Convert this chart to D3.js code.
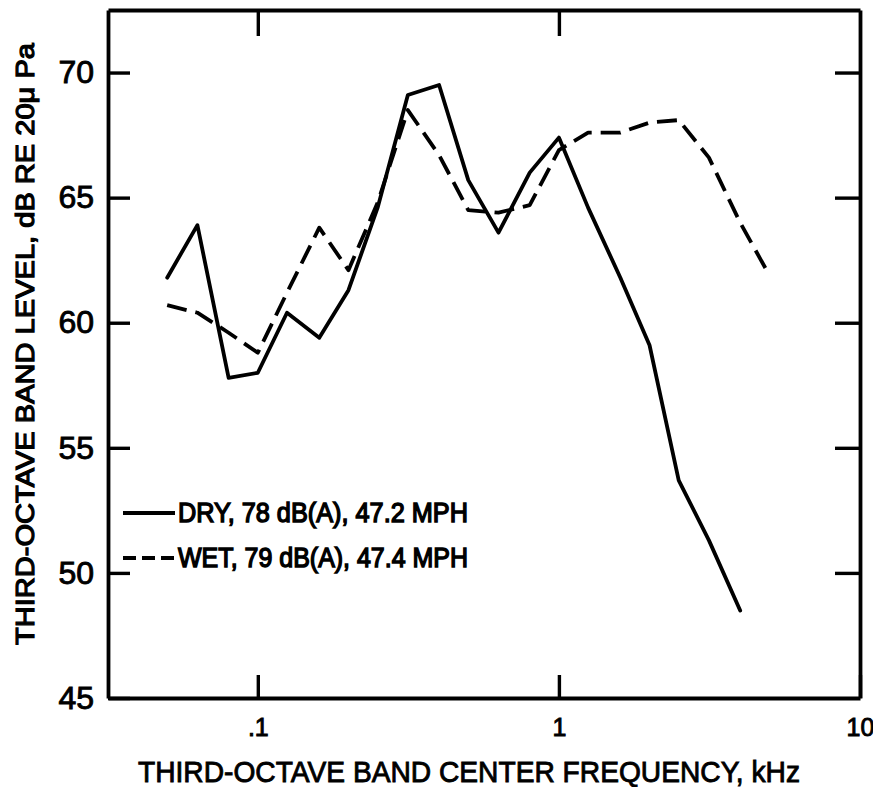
<!DOCTYPE html>
<html>
<head>
<meta charset="utf-8">
<script src="https://cdn.jsdelivr.net/npm/d3@7"></script>
<style>
  body { margin: 0; background: #fff; }
  text { font-family: "Liberation Sans", Arial, sans-serif; fill: #000; stroke: #000; stroke-width: 0.9px; }
</style>
</head>
<body>
<svg id="chart"></svg>
<script>
const WIDTH = 873;
const HEIGHT = 787;

// third-octave band centres, kHz
const freqs = [0.05, 0.063, 0.08, 0.1, 0.125, 0.16, 0.2, 0.25, 0.315, 0.4, 0.5,
               0.63, 0.8, 1, 1.25, 1.6, 2, 2.5, 3.15, 4, 5];
// band levels, dB re 20 uPa
const dry = [61.8, 63.9, 57.8, 58.0, 60.4, 59.4, 61.3, 64.6, 69.1, 69.5, 65.7,
             63.6, 66.0, 67.4, 64.6, 61.8, 59.1, 53.7, 51.3, 48.5];
const wet = [60.7, 60.4, 59.6, 58.8, 61.2, 63.8, 62.1, 64.8, 68.5, 66.7, 64.5,
             64.4, 64.7, 66.9, 67.6, 67.6, 68.0, 68.1, 66.6, 64.0, 61.9];

const yTicks = [45, 50, 55, 60, 65, 70];
const xTicks = [0.1, 1, 10];
const xTickLabels = [".1", "1", "10"];
const legendLabels = ["DRY, 78 dB(A), 47.2 MPH", "WET, 79 dB(A), 47.4 MPH"];

const L = 108, R = 860, T = 10, B = 698;

const svg = d3.select("#chart")
  .attr("width", WIDTH)
  .attr("height", HEIGHT);

svg.append("rect").attr("width", WIDTH).attr("height", HEIGHT).attr("fill", "#fff");

const x = d3.scaleLog().domain([0.0318, 10]).range([L, R]);
const y = d3.scaleLinear().domain([45, 72.5]).range([B, T]);

const line = d3.line()
  .x(d => x(d[0]))
  .y(d => y(d[1]));

const dryPts = dry.map((v, i) => [freqs[i], v]);
const wetPts = wet.map((v, i) => [freqs[i], v]);

svg.append("path")
  .datum(wetPts)
  .attr("fill", "none")
  .attr("stroke", "#000")
  .attr("stroke-width", 3.8)
  .attr("stroke-dasharray", "20 9")
  .attr("stroke-linejoin", "round")
  .attr("d", line);

svg.append("path")
  .datum(dryPts)
  .attr("fill", "none")
  .attr("stroke", "#000")
  .attr("stroke-width", 3.8)
  .attr("stroke-linejoin", "round")
  .attr("stroke-linecap", "round")
  .attr("d", line);

// axes (frame with inward ticks)
function styleAxis(g) {
  g.select(".domain").attr("stroke-width", 3.8);
  g.selectAll(".tick line").attr("stroke-width", 3.4);
}

svg.append("g")
  .attr("transform", `translate(${L},0)`)
  .call(d3.axisLeft(y).tickValues(yTicks).tickSize(-22).tickSizeOuter(0).tickPadding(14))
  .call(styleAxis)
  .call(g => g.selectAll(".tick text").attr("font-size", 32).attr("font-family", "Liberation Sans, Arial, sans-serif"));

svg.append("g")
  .attr("transform", `translate(${R},0)`)
  .call(d3.axisRight(y).tickValues(yTicks.slice(1)).tickSize(-25).tickSizeOuter(0).tickFormat(""))
  .call(styleAxis);

svg.append("g")
  .attr("transform", `translate(0,${T})`)
  .call(d3.axisTop(x).tickValues(xTicks.slice(0, 2)).tickSize(-26).tickSizeOuter(0).tickFormat(""))
  .call(styleAxis);

svg.append("g")
  .attr("transform", `translate(0,${B})`)
  .call(d3.axisBottom(x).tickValues(xTicks).tickSize(-23).tickSizeOuter(0).tickPadding(20)
    .tickFormat((d, i) => xTickLabels[i]))
  .call(styleAxis)
  .call(g => g.selectAll(".tick text").attr("font-size", 25).attr("font-family", "Liberation Sans, Arial, sans-serif"));

// axis titles
svg.append("text")
  .attr("x", 469)
  .attr("y", 782)
  .attr("text-anchor", "middle")
  .attr("font-size", 30)
  .attr("textLength", 662)
  .attr("lengthAdjust", "spacingAndGlyphs")
  .text("THIRD-OCTAVE BAND CENTER FREQUENCY, kHz");

svg.append("text")
  .attr("transform", "translate(34,344) rotate(-90)")
  .attr("text-anchor", "middle")
  .attr("font-size", 26)
  .style("stroke-width", "1.2px")
  .attr("textLength", 602)
  .attr("lengthAdjust", "spacingAndGlyphs")
  .text("THIRD-OCTAVE BAND LEVEL, dB RE 20\u03BC Pa");

// legend
const legend = svg.append("g");
legendLabels.forEach((label, i) => {
  const ly = 513 + i * 45;
  legend.append("line")
    .attr("x1", 123).attr("x2", 175)
    .attr("y1", ly).attr("y2", ly)
    .attr("stroke", "#000")
    .attr("stroke-width", 3.8)
    .attr("stroke-dasharray", i === 1 ? "13 6" : null);
  legend.append("text")
    .attr("x", 178)
    .attr("y", ly + 9)
    .attr("font-size", 27)
    .style("stroke-width", "1.4px")
    .attr("textLength", 290)
    .attr("lengthAdjust", "spacingAndGlyphs")
    .text(label);
});
</script>
</body>
</html>
